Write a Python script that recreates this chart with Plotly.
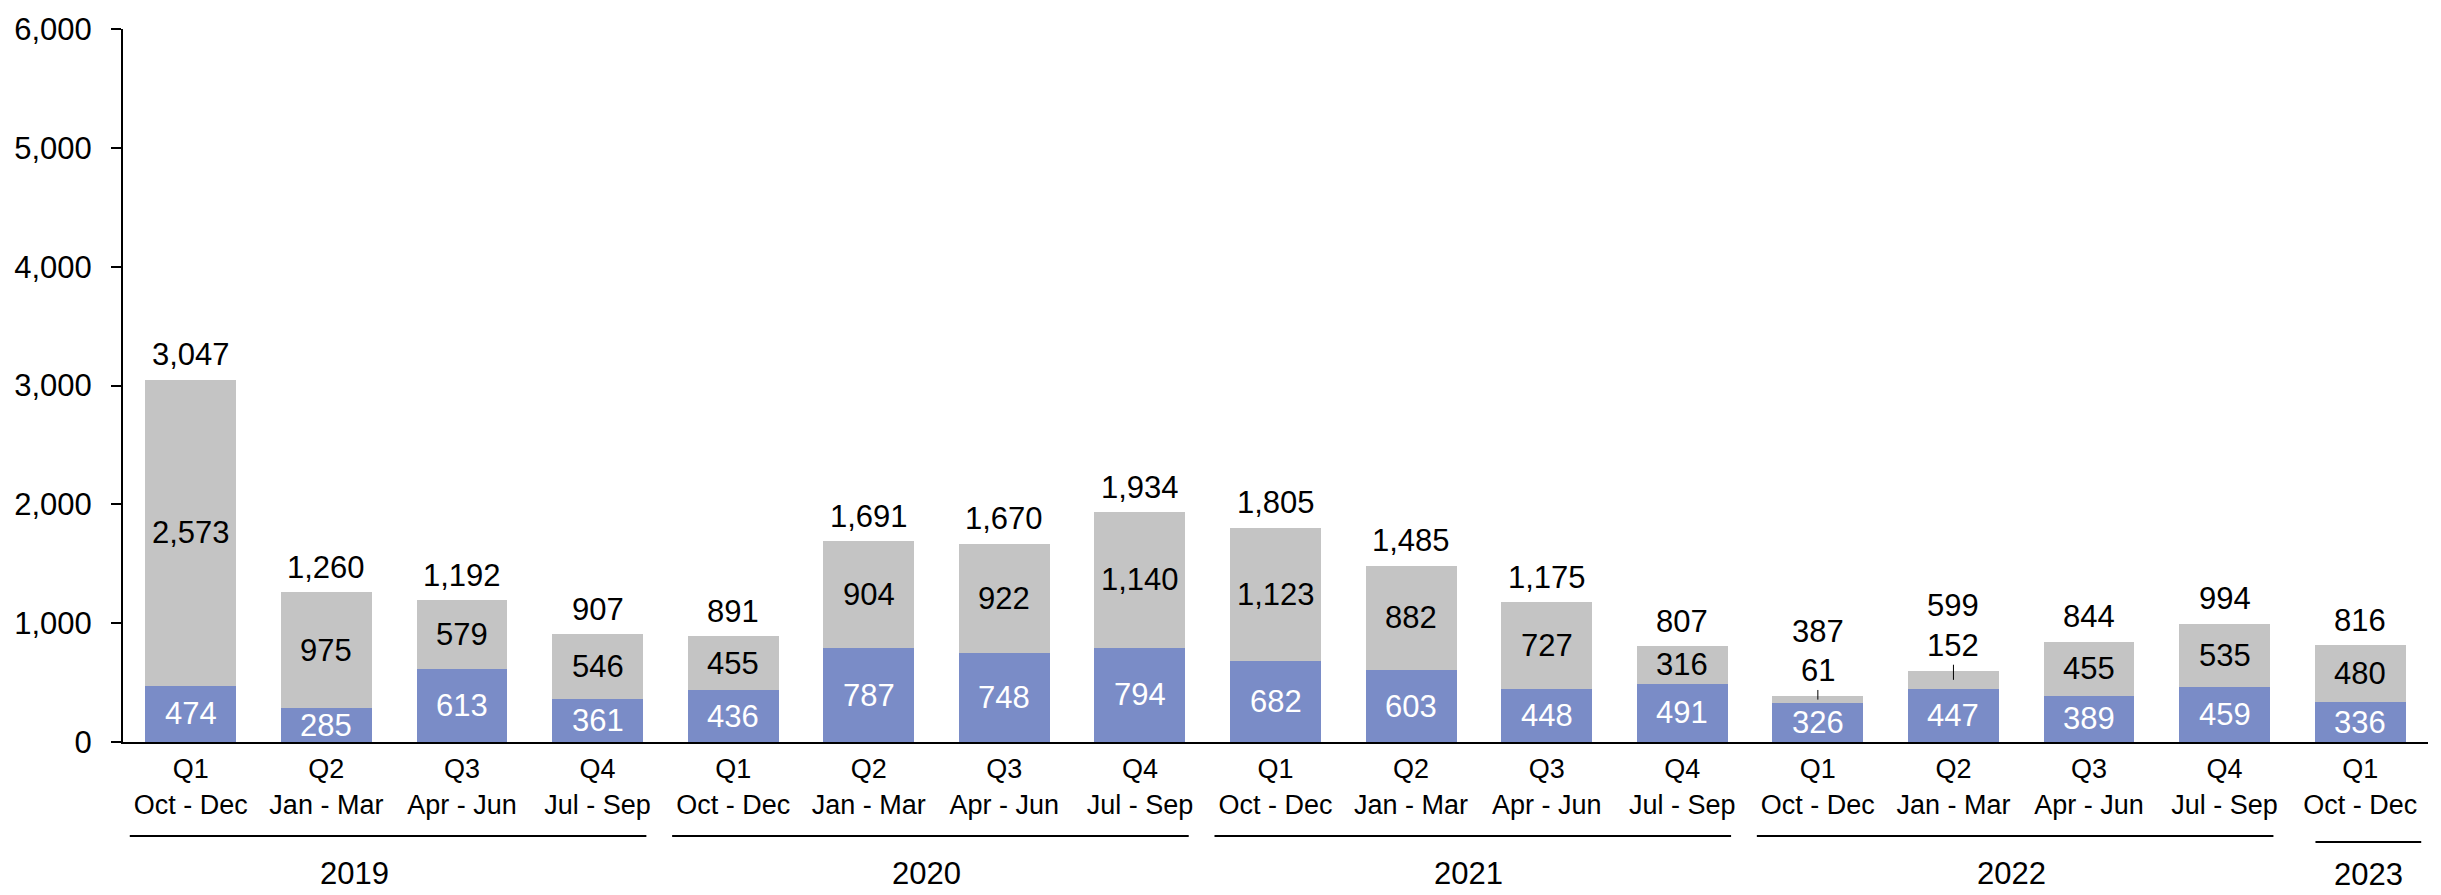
import plotly.graph_objects as go

quarters = ["Q1", "Q2", "Q3", "Q4", "Q1", "Q2", "Q3", "Q4", "Q1", "Q2", "Q3", "Q4",
            "Q1", "Q2", "Q3", "Q4", "Q1"]
months = ["Oct - Dec", "Jan - Mar", "Apr - Jun", "Jul - Sep"] * 4 + ["Oct - Dec"]
years = ["2019", "2020", "2021", "2022", "2023"]
year_counts = [4, 4, 4, 4, 1]

blue_vals = [474, 285, 613, 361, 436, 787, 748, 794, 682, 603, 448, 491, 326, 447, 389, 459, 336]
grey_vals = [2573, 975, 579, 546, 455, 904, 922, 1140, 1123, 882, 727, 316, 61, 152, 455, 535, 480]
totals = [3047, 1260, 1192, 907, 891, 1691, 1670, 1934, 1805, 1485, 1175, 807, 387, 599, 844, 994, 816]

BLUE = "#7A8CC7"
GREY = "#C4C4C4"
FONT = "Liberation Sans, Arial, sans-serif"
FS = 31       # data labels, y ticks, years
FS_TICK = 27  # quarter / month labels

W, H = 2441, 895
M_L, M_R, M_T, M_B = 123, 13, 22, 153
Y_MAX = 6000
plot_h = H - M_T - M_B
px_per_unit = plot_h / Y_MAX

x = list(range(len(quarters)))

fig = go.Figure()
fig.add_trace(go.Bar(x=x, y=blue_vals, marker_color=BLUE, marker_line_width=0, hoverinfo="skip"))
fig.add_trace(go.Bar(x=x, y=grey_vals, marker_color=GREY, marker_line_width=0, hoverinfo="skip"))

annotations = []
for i in x:
    b, g, t = blue_vals[i], grey_vals[i], totals[i]
    annotations.append(dict(x=i, y=b / 2, text=f"{b:,}", showarrow=False,
                            font=dict(size=FS, color="white", family=FONT)))
    if g < 200:
        # too thin for the label: put it above with a small leader line
        annotations.append(dict(x=i, y=b + g / 2, text=f"{g:,}", showarrow=True,
                                arrowhead=0, arrowwidth=1, arrowcolor="black",
                                ax=0, ay=-(g / 2 * px_per_unit + 25),
                                font=dict(size=FS, color="black", family=FONT)))
        total_shift = 65
    else:
        annotations.append(dict(x=i, y=b + g / 2, text=f"{g:,}", showarrow=False,
                                font=dict(size=FS, color="black", family=FONT)))
        total_shift = 25
    annotations.append(dict(x=i, y=t, text=f"{t:,}", showarrow=False, yshift=total_shift,
                            font=dict(size=FS, color="black", family=FONT)))

# year brackets under the quarter labels (offsets in px below the plot area)
shapes = []
start = 0
for k, (yr, n) in enumerate(zip(years, year_counts)):
    first, last = start, start + n - 1
    if n > 1:
        x0, x1, line_px, text_px = first - 0.45, last + 0.36, 95, 133
        tx = (x0 + x1) / 2 - (0.25 if k == 0 else 0.03)
    else:
        x0, x1, line_px, text_px = first - 0.33, last + 0.45, 101, 134
        tx = (x0 + x1) / 2
    ly, ty = -line_px / plot_h, -text_px / plot_h
    shapes.append(dict(type="line", xref="x", yref="paper", x0=x0, x1=x1, y0=ly, y1=ly,
                       line=dict(color="black", width=2)))
    annotations.append(dict(x=tx, y=ty, xref="x", yref="paper", text=yr, showarrow=False,
                            yanchor="middle", xanchor="center",
                            font=dict(size=FS, color="black", family=FONT)))
    start += n

fig.update_layout(
    barmode="stack",
    bargap=0.33,
    width=W, height=H,
    margin=dict(l=M_L, r=M_R, t=M_T, b=M_B),
    plot_bgcolor="white", paper_bgcolor="white",
    showlegend=False,
    font=dict(family=FONT, size=FS, color="black"),
    annotations=annotations,
    shapes=shapes,
    xaxis=dict(
        range=[-0.5, len(x) - 0.5],
        tickvals=x,
        ticktext=[f"{q}<br>{m}" for q, m in zip(quarters, months)],
        showline=True, linecolor="black", linewidth=2,
        ticks="", showgrid=False, zeroline=False,
        ticklabelstandoff=2,
        tickfont=dict(size=FS_TICK, family=FONT, color="black"),
    ),
    yaxis=dict(
        range=[0, Y_MAX],
        tickvals=[0, 1000, 2000, 3000, 4000, 5000, 6000],
        tickformat=",",
        showline=True, linecolor="black", linewidth=2,
        ticks="outside", ticklen=10, tickwidth=1.5, tickcolor="black",
        ticklabelstandoff=13,
        showgrid=False, zeroline=False,
        tickfont=dict(size=FS, family=FONT, color="black"),
    ),
)

fig.write_html("out.html", config={"displayModeBar": False},
               post_script="document.body.style.margin='0';")
